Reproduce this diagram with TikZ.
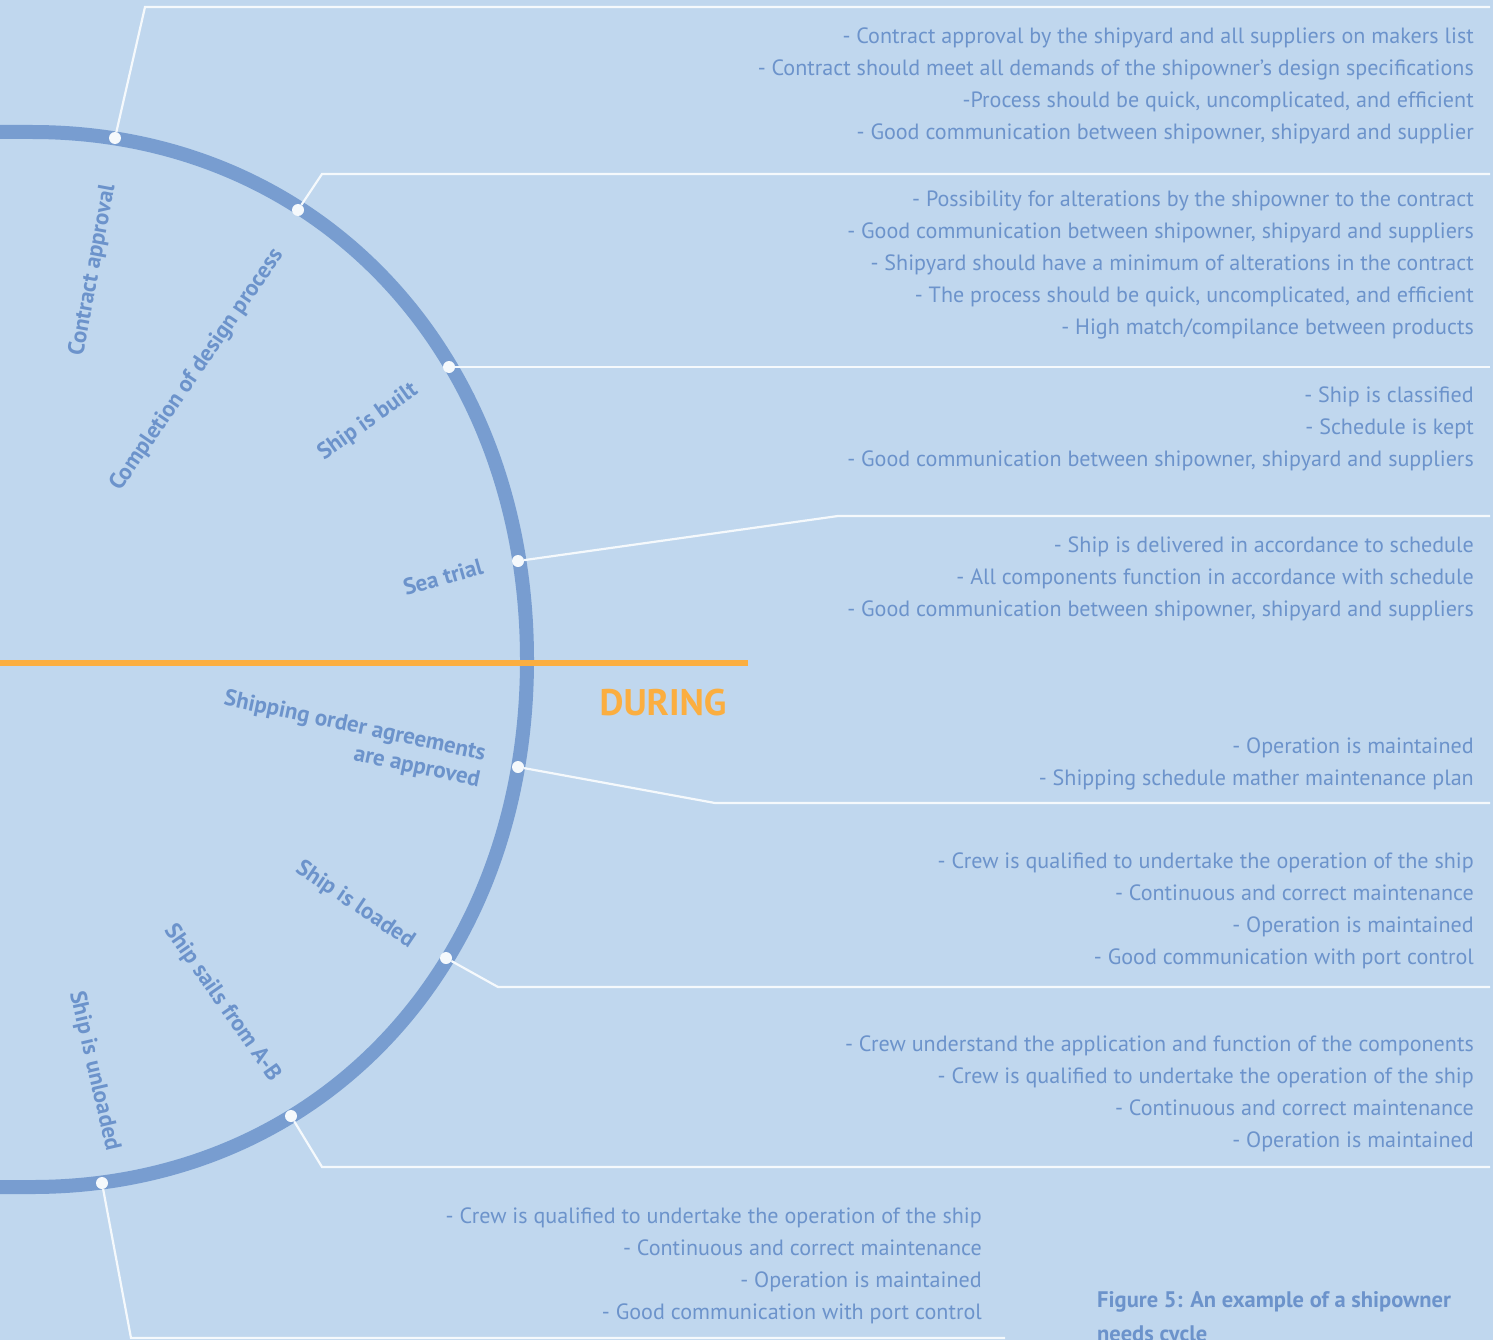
\documentclass[tikz,border=0pt]{standalone}
\usepackage{fontspec}
\setmainfont{PT Sans}
\definecolor{sky}{RGB}{192,215,238}
\definecolor{cycleblue}{RGB}{120,157,208}
\definecolor{inkblue}{RGB}{108,147,203}
\definecolor{amber}{RGB}{251,174,64}
\definecolor{paper}{RGB}{245,249,252}
\tikzstyle{milestone} = [circle, fill=paper, minimum size=12pt, inner sep=0pt]
\tikzstyle{leader} = [draw=paper, line width=2.2pt]
\tikzstyle{needs} = [anchor=north east, align=right, inner sep=0pt, text=inkblue, font=\fontsize{22.1}{32}\selectfont]
\tikzstyle{phase} = [align=center, inner sep=0pt, text=inkblue, font=\bfseries\fontsize{23}{27}\selectfont]

\begin{document}
\begin{tikzpicture}[x=1pt, y=-1pt]
    \fill[sky] (0,0) rectangle (1493,1340);
    \useasboundingbox (0,0) rectangle (1493,1340);
    % the needs cycle
    \draw[cycleblue, line width=14pt] (0,132) -- (32,132)
        .. controls (319,132) and (527,354) .. (527,660)
        .. controls (527,966) and (319,1187) .. (32,1187) -- (0,1187);
    \draw[amber, line width=6pt] (0,663) -- (748,663);
    \node (during) at (663,703) [text=amber, font=\bfseries\fontsize{37}{40}\selectfont] {DURING};
    % phases along the cycle
    \node (contract) [phase, rotate=79.5] at (93,270) {Contract approval};
    \node (design) [phase, rotate=55.5] at (197,370) {Completion of design process};
    \node (built) [phase, rotate=35.5] at (368,422) {Ship is built};
    \node (trial) [phase, rotate=16] at (443,577) {Sea trial};
    \node (orders) [phase, align=right, rotate=-12] at (352,740) {Shipping order agreements\\are approved};
    \node (loaded) [phase, rotate=-34] at (355,905) {Ship is loaded};
    \node (sails) [phase, rotate=-55] at (222,1003) {Ship sails from A-B};
    \node (unloaded) [phase, rotate=-77] at (94,1071) {Ship is unloaded};
    % milestones and leaders
    \node (m1) [milestone] at (115,138) {};
    \node (m2) [milestone] at (298,210) {};
    \node (m3) [milestone] at (449,367) {};
    \node (m4) [milestone] at (518,561) {};
    \node (m5) [milestone] at (518,767) {};
    \node (m6) [milestone] at (446,958) {};
    \node (m7) [milestone] at (291,1116) {};
    \node (m8) [milestone] at (102,1183) {};
    \coordinate (b1) at (145,7);     \coordinate (e1) at (1490,7);
    \coordinate (b2) at (322,174);   \coordinate (e2) at (1490,174);
    \coordinate (e3) at (1490,367);
    \coordinate (b4) at (838,516);   \coordinate (e4) at (1490,516);
    \coordinate (b5) at (715,803);   \coordinate (e5) at (1490,803);
    \coordinate (b6) at (498,987);   \coordinate (e6) at (1490,987);
    \coordinate (b7) at (322,1167);  \coordinate (e7) at (1490,1167);
    \coordinate (b8) at (131,1338);  \coordinate (e8) at (1005,1338);
    \draw[leader] (m1) -- (b1) -- (e1);
    \draw[leader] (m2) -- (b2) -- (e2);
    \draw[leader] (m3) -- (e3);
    \draw[leader] (m4) -- (b4) -- (e4);
    \draw[leader] (m5) -- (b5) -- (e5);
    \draw[leader] (m6) -- (b6) -- (e6);
    \draw[leader] (m7) -- (b7) -- (e7);
    \draw[leader] (m8) -- (b8) -- (e8);
    % needs
    \node (n1) [needs] at (1474,28) {- Contract approval by the shipyard and all suppliers on makers list\\- Contract should meet all demands of the shipowner’s design specifications\\-Process should be quick, uncomplicated, and efficient\\- Good communication between shipowner, shipyard and supplier};
    \node (n2) [needs] at (1474,191) {- Possibility for alterations by the shipowner to the contract\\- Good communication between shipowner, shipyard and suppliers\\- Shipyard should have a minimum of alterations in the contract\\- The process should be quick, uncomplicated, and efficient\\- High match/compilance between products};
    \node (n3) [needs] at (1474,387) {- Ship is classified\\- Schedule is kept\\- Good communication between shipowner, shipyard and suppliers};
    \node (n4) [needs] at (1474,537) {- Ship is delivered in accordance to schedule\\- All components function in accordance with schedule\\- Good communication between shipowner, shipyard and suppliers};
    \node (n5) [needs] at (1474,738) {- Operation is maintained\\- Shipping schedule mather maintenance plan};
    \node (n6) [needs] at (1474,853) {- Crew is qualified to undertake the operation of the ship\\- Continuous and correct maintenance\\- Operation is maintained\\- Good communication with port control};
    \node (n7) [needs] at (1474,1036) {- Crew understand the application and function of the components\\- Crew is qualified to undertake the operation of the ship\\- Continuous and correct maintenance\\- Operation is maintained};
    \node (n8) [needs] at (982,1208) {- Crew is qualified to undertake the operation of the ship\\- Continuous and correct maintenance\\- Operation is maintained\\- Good communication with port control};
    \node (caption) [anchor=north west, align=left, inner sep=0pt, text=inkblue, font=\bfseries\fontsize{22.5}{34}\selectfont] at (1097,1291) {Figure 5: An example of a shipowner\\needs cycle};
\end{tikzpicture}
\end{document}
